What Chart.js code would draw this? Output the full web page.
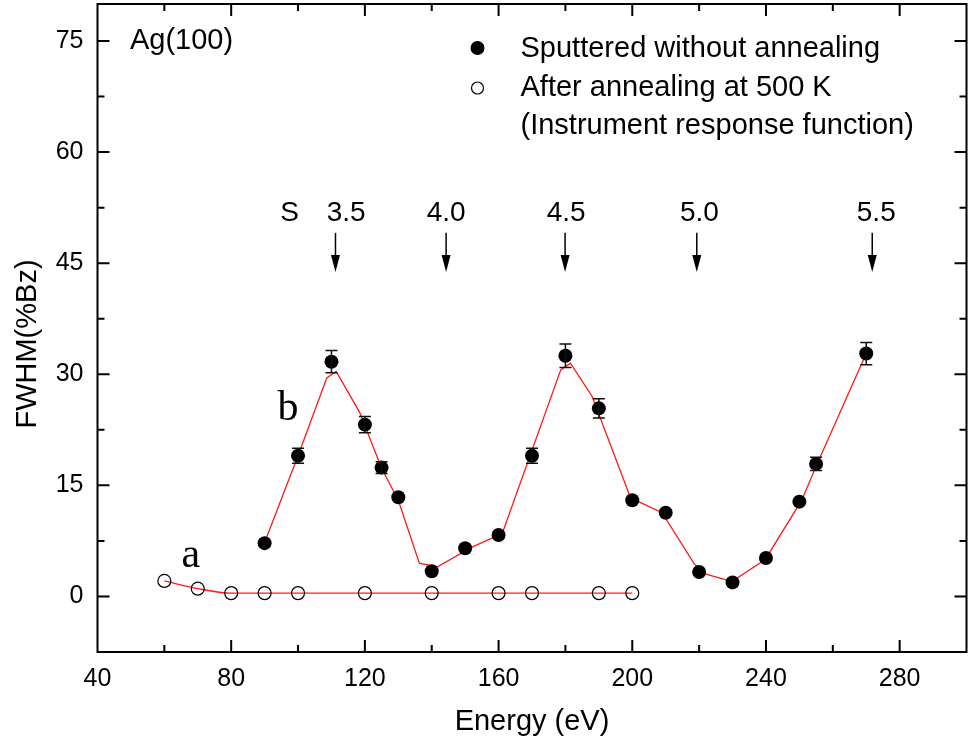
<!DOCTYPE html>
<html>
<head>
<meta charset="utf-8">
<script src="https://cdn.jsdelivr.net/npm/chart.js@4"></script>
<style>
  html, body { margin: 0; padding: 0; background: #fff; }
  #wrap { width: 968px; height: 747px; }
</style>
</head>
<body>
<div id="wrap"><canvas id="chart" width="968" height="747"></canvas></div>
<script>
// b: sputtered without annealing (filled circles)
const energy = [90, 100, 110, 120, 125, 130, 140, 150, 160, 170, 180, 190, 200, 210, 220, 230, 240, 250, 255, 270];
const fwhm = [7.2, 19.0, 31.7, 23.2, 17.4, 13.4, 3.4, 6.5, 8.3, 19.0, 32.5, 25.4, 13.0, 11.3, 3.3, 1.9, 5.2, 12.8, 17.9, 32.8];
const fwhmErr = [0, 1.0, 1.5, 1.1, 0.8, 0, 0, 0, 0, 1.0, 1.6, 1.3, 0, 0, 0, 0, 0, 0, 0.9, 1.5];

// a: after annealing at 500 K (open circles)
const energyIrf = [60, 70, 80, 90, 100, 120, 140, 160, 170, 190, 200];
const fwhmIrf = [2.1, 1.05, 0.45, 0.45, 0.45, 0.45, 0.45, 0.45, 0.45, 0.45, 0.45];

// red curve drawn through b
const fitEnergy = [90, 100, 108.6, 111.4, 118.4, 125, 130, 136.3, 141.7, 152.2, 161.1, 178.6, 181.5, 188, 199.5, 208.9, 218.4, 221.3, 229.8, 239.8, 250.7, 255.2, 270];
const fitFwhm = [7.3, 19.0, 29.5, 30.4, 24.9, 17.3, 13.0, 4.5, 4.0, 6.7, 8.5, 30.6, 31.5, 27.0, 13.3, 11.3, 4.5, 3.1, 2.0, 5.0, 13.0, 17.8, 32.8];

const xTicks = [40, 80, 120, 160, 200, 240, 280];
const yTicks = [0, 15, 30, 45, 60, 75];

// arrows with labels above the peaks
const arrowEnergy = [111.2, 144.3, 179.9, 219.3, 271.8];
const arrowLabelEnergy = [114.4, 144.3, 180.2, 220.1, 273.0];
const arrowLabels = ['3.5', '4.0', '4.5', '5.0', '5.5'];

const SANS = '"Liberation Sans", Arial, sans-serif';
Chart.defaults.font.family = SANS;
Chart.defaults.color = '#000';

const toPts = (xs, ys) => xs.map((v, i) => ({x: v, y: ys[i]}));

const framePlugin = {
    id: 'frame',
    afterDraw(chart) {
        const {ctx, chartArea: a, scales: {x, y}} = chart;
        ctx.save();
        ctx.strokeStyle = '#000';
        ctx.lineWidth = 2;
        ctx.strokeRect(a.left, a.top, a.right - a.left, a.bottom - a.top);

        const xStep = xTicks[1] - xTicks[0];
        const yStep = yTicks[1] - yTicks[0];
        const xMarks = [];
        xTicks.forEach(v => { xMarks.push([v, 12]); xMarks.push([v + xStep / 2, 7]); });
        const yMarks = [];
        yTicks.forEach(v => { yMarks.push([v, 12]); yMarks.push([v + yStep / 2, 7]); });

        ctx.beginPath();
        xMarks.forEach(([v, len]) => {
            const px = x.getPixelForValue(v);
            if (px <= a.left + 1 || px >= a.right - 1) return;
            ctx.moveTo(px, a.bottom); ctx.lineTo(px, a.bottom - len);
            ctx.moveTo(px, a.top); ctx.lineTo(px, a.top + len);
        });
        yMarks.forEach(([v, len]) => {
            const py = y.getPixelForValue(v);
            if (py <= a.top + 1 || py >= a.bottom - 1) return;
            ctx.moveTo(a.left, py); ctx.lineTo(a.left + len, py);
            ctx.moveTo(a.right, py); ctx.lineTo(a.right - len, py);
        });
        ctx.stroke();

        // y axis title, sits a little below the middle of the axis
        ctx.font = '29px ' + SANS;
        ctx.fillStyle = '#000';
        ctx.textAlign = 'center';
        ctx.textBaseline = 'middle';
        ctx.translate(28, 344);
        ctx.rotate(-Math.PI / 2);
        ctx.fillText('FWHM(%Bz)', 0, 0);
        ctx.restore();
    }
};

const extrasPlugin = {
    id: 'extras',
    afterDatasetsDraw(chart) {
        const {ctx, scales: {x, y}} = chart;
        // error bars
        ctx.save();
        ctx.strokeStyle = '#111';
        ctx.lineWidth = 1.5;
        ctx.beginPath();
        energy.forEach((e, i) => {
            if (!fwhmErr[i]) return;
            const px = x.getPixelForValue(e);
            const top = y.getPixelForValue(fwhm[i] + fwhmErr[i]);
            const bot = y.getPixelForValue(fwhm[i] - fwhmErr[i]);
            ctx.moveTo(px, top); ctx.lineTo(px, bot);
            ctx.moveTo(px - 6, top); ctx.lineTo(px + 6, top);
            ctx.moveTo(px - 6, bot); ctx.lineTo(px + 6, bot);
        });
        ctx.stroke();
        ctx.restore();
    },
    afterDraw(chart) {
        const {ctx, chartArea: a, scales: {x, y}} = chart;
        ctx.save();
        ctx.fillStyle = '#000';
        ctx.strokeStyle = '#000';
        ctx.textBaseline = 'middle';

        // sample label
        ctx.font = '29px ' + SANS;
        ctx.textAlign = 'left';
        ctx.fillText('Ag(100)', x.getPixelForValue(49.7), y.getPixelForValue(75));

        // arrows
        ctx.font = '28px ' + SANS;
        ctx.textAlign = 'center';
        ctx.fillText('S', x.getPixelForValue(97.5), y.getPixelForValue(51.7));
        arrowEnergy.forEach((e, i) => {
            const px = x.getPixelForValue(e);
            const top = y.getPixelForValue(49.1);
            const tip = y.getPixelForValue(43.8);
            ctx.lineWidth = 1.5;
            ctx.beginPath();
            ctx.moveTo(px, top); ctx.lineTo(px, tip - 10);
            ctx.stroke();
            ctx.beginPath();
            ctx.moveTo(px - 4.5, tip - 17);
            ctx.lineTo(px + 4.5, tip - 17);
            ctx.lineTo(px, tip);
            ctx.closePath();
            ctx.fill();
            ctx.fillText(arrowLabels[i], x.getPixelForValue(arrowLabelEnergy[i]), y.getPixelForValue(51.7));
        });

        // curve letters
        ctx.font = '42px "Liberation Serif", "Times New Roman", serif';
        ctx.fillText('a', x.getPixelForValue(67.9), y.getPixelForValue(5.4));
        ctx.fillText('b', x.getPixelForValue(97.0), y.getPixelForValue(25.3));

        // legend
        const lx = a.left + 380;
        const tx = a.left + 423;
        ctx.font = '29px ' + SANS;
        ctx.textAlign = 'left';
        ctx.beginPath();
        ctx.arc(lx, 48, 7, 0, Math.PI * 2);
        ctx.fill();
        ctx.fillText('Sputtered without annealing', tx, 49);
        ctx.lineWidth = 1.2;
        ctx.beginPath();
        ctx.arc(lx, 88, 6, 0, Math.PI * 2);
        ctx.stroke();
        ctx.fillText('After annealing at 500 K', tx, 88);
        ctx.fillText('(Instrument response function)', tx, 126);
        ctx.restore();
    }
};

const ctx = document.getElementById('chart').getContext('2d');
new Chart(ctx, {
    type: 'scatter',
    data: {
        datasets: [{
                label: 'Sputtered without annealing',
                data: toPts(energy, fwhm),
                showLine: false,
                pointRadius: 7,
                pointBackgroundColor: '#000',
                pointBorderColor: '#000',
                pointBorderWidth: 0,
                order: 0
            },
            {
                label: 'After annealing at 500 K',
                data: toPts(energyIrf, fwhmIrf),
                showLine: true,
                borderColor: '#ff1a1a',
                borderWidth: 1.3,
                cubicInterpolationMode: 'monotone',
                pointRadius: 6.5,
                pointBackgroundColor: 'rgba(0,0,0,0)',
                pointBorderColor: '#000',
                pointBorderWidth: 1.2,
                order: 1
            },
            {
                label: 'fit',
                data: toPts(fitEnergy, fitFwhm),
                showLine: true,
                borderColor: '#ff1a1a',
                borderWidth: 1.3,
                pointRadius: 0,
                order: 2
            }
        ]
    },
    options: {
        responsive: false,
        animation: false,
        devicePixelRatio: 1,
        layout: { autoPadding: false, padding: { top: 4, right: 1.5, left: 0, bottom: 0 } },
        plugins: { legend: { display: false }, tooltip: { enabled: false } },
        scales: {
            x: {
                type: 'linear',
                min: 40,
                max: 300,
                grid: { display: false, drawTicks: false },
                border: { display: false },
                afterBuildTicks: s => { s.ticks = xTicks.map(v => ({ value: v })); },
                afterFit: s => { s.height = 95; s.paddingLeft = 0; s.paddingRight = 0; },
                ticks: { color: '#000', font: { size: 25 }, padding: 12, maxRotation: 0, autoSkip: false },
                title: { display: true, text: 'Energy (eV)', color: '#000', font: { size: 29 }, padding: { top: 0, bottom: 8 } }
            },
            y: {
                type: 'linear',
                min: -7.5,
                max: 80,
                grid: { display: false, drawTicks: false },
                border: { display: false },
                afterBuildTicks: s => { s.ticks = yTicks.map(v => ({ value: v })); },
                afterFit: s => { s.width = 97.5; s.paddingTop = 0; s.paddingBottom = 0; },
                ticks: { color: '#000', font: { size: 25 }, padding: 14, autoSkip: false },
                title: { display: false }
            }
        }
    },
    plugins: [framePlugin, extrasPlugin]
});
</script>
</body>
</html>
